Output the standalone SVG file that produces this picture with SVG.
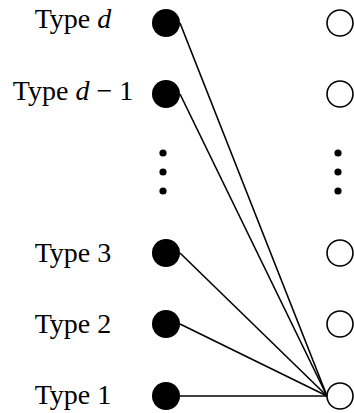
<svg xmlns="http://www.w3.org/2000/svg" width="354" height="413" viewBox="0 0 354 413">
<style>
text{font-family:'Liberation Serif','Times New Roman',Times,serif;font-size:28px;fill:#000;text-anchor:middle}
.it{font-style:italic}
.full{fill:#000}
.open{fill:#fff;stroke:#000;stroke-width:1.6}
.edge{stroke:#000;stroke-width:1.6;fill:none}
.dot{fill:#000}
</style>
<rect width="354" height="413" fill="#fff"/>
<g id="connectors">
<line class="edge" x1="180" y1="23" x2="327" y2="396"/>
<line class="edge" x1="180" y1="94" x2="327" y2="396"/>
<line class="edge" x1="180" y1="253" x2="327" y2="396"/>
<line class="edge" x1="180" y1="324" x2="327" y2="396"/>
<line class="edge" x1="180" y1="396" x2="327" y2="396"/>
</g>
<g id="typed"><text x="73" y="28" font-family="Liberation Serif, serif">Type <tspan class="it">d</tspan></text><circle class="full" cx="166" cy="23" r="14"/></g>
<g id="typed1"><text x="73" y="100" font-family="Liberation Serif, serif">Type <tspan class="it">d</tspan> − 1</text><circle class="full" cx="166" cy="94" r="14"/></g>
<g id="type3"><text x="73" y="262" font-family="Liberation Serif, serif">Type 3</text><circle class="full" cx="166" cy="253" r="14"/></g>
<g id="type2"><text x="73" y="333" font-family="Liberation Serif, serif">Type 2</text><circle class="full" cx="166" cy="324" r="14"/></g>
<g id="type1"><text x="73" y="404" font-family="Liberation Serif, serif">Type 1</text><circle class="full" cx="166" cy="396" r="14"/></g>
<g id="leftdots"><circle class="dot" cx="163" cy="153" r="3.6"/><circle class="dot" cx="163" cy="172" r="3.6"/><circle class="dot" cx="163" cy="191" r="3.6"/></g>
<g id="r1"><circle class="open" cx="340" cy="23" r="13"/></g>
<g id="r2"><circle class="open" cx="340" cy="94" r="13"/></g>
<g id="rightdots"><circle class="dot" cx="338" cy="153" r="3.6"/><circle class="dot" cx="338" cy="172" r="3.6"/><circle class="dot" cx="338" cy="191" r="3.6"/></g>
<g id="r3"><circle class="open" cx="340" cy="253" r="13"/></g>
<g id="r4"><circle class="open" cx="340" cy="324" r="13"/></g>
<g id="r5"><circle class="open" cx="340" cy="396" r="13"/></g>
</svg>
